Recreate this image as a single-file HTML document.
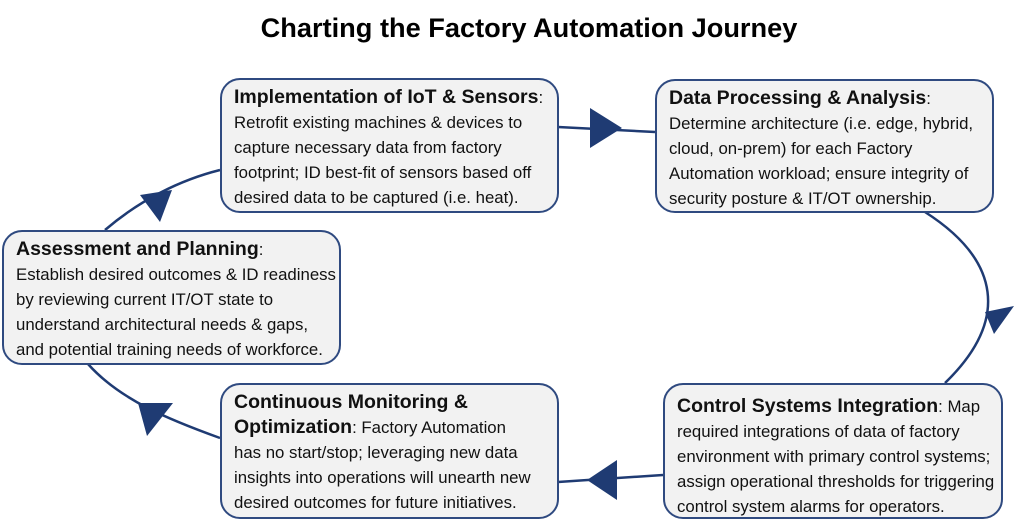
<!DOCTYPE html>
<html><head><meta charset="utf-8"><style>
body{margin:0;width:1015px;height:527px;background:#fff;position:relative;overflow:hidden;font-family:"Liberation Sans",sans-serif;}
h1{position:absolute;left:0;width:1058px;top:12px;margin:0;text-align:center;font-size:27.2px;font-weight:bold;color:#000;}
.b{position:absolute;box-sizing:border-box;border:2px solid #2f4a80;border-radius:20px;background:#f2f2f2;padding:5px 6px 0 12px;font-size:16.8px;line-height:25px;color:#111;white-space:nowrap;overflow:hidden;}
.b b{font-size:19.5px;}
svg{position:absolute;left:0;top:0;}
</style></head><body>
<h1>Charting the Factory Automation Journey</h1>
<svg width="1015" height="527">
<g fill="none" stroke="#1f3b73" stroke-width="2.5">
<path d="M558,127 L655,132"/>
<path d="M925,212 C1000,260 1010,320 945,383"/>
<path d="M663,475 L558,482"/>
<path d="M220,438 C170,420 120,400 88,364"/>
<path d="M105,230 C140,200 180,180 220,170"/>
</g>
<g fill="#1f3b73">
<polygon points="590,108 622,128 590,148"/>
<polygon points="985,312 1014,306 994,334"/>
<polygon points="617,460 617,500 587,480"/>
<polygon points="138,403 173,403 147,436"/>
<polygon points="140,195 172,190 160,222"/>
</g>
</svg>
<div class="b" style="left:220px;top:78px;width:339px;height:135px"><b>Implementation of IoT &amp; Sensors</b>:<br>Retrofit existing machines &amp; devices to<br>capture necessary data from factory<br>footprint; ID best-fit of sensors based off<br>desired data to be captured (i.e. heat).</div>
<div class="b" style="left:655px;top:79px;width:339px;height:134px"><b>Data Processing &amp; Analysis</b>:<br>Determine architecture (i.e. edge, hybrid,<br>cloud, on-prem) for each Factory<br>Automation workload; ensure integrity of<br>security posture &amp; IT/OT ownership.</div>
<div class="b" style="left:2px;top:230px;width:339px;height:135px"><b>Assessment and Planning</b>:<br>Establish desired outcomes &amp; ID readiness<br>by reviewing current IT/OT state to<br>understand architectural needs &amp; gaps,<br>and potential training needs of workforce.</div>
<div class="b" style="left:220px;top:383px;width:339px;height:136px"><b>Continuous Monitoring &amp;</b><br><b>Optimization</b>: Factory Automation<br>has no start/stop; leveraging new data<br>insights into operations will unearth new<br>desired outcomes for future initiatives.</div>
<div class="b" style="left:663px;top:383px;width:340px;height:136px;padding-top:9px"><b>Control Systems Integration</b>: Map<br>required integrations of data of factory<br>environment with primary control systems;<br>assign operational thresholds for triggering<br>control system alarms for operators.</div>
</body></html>
